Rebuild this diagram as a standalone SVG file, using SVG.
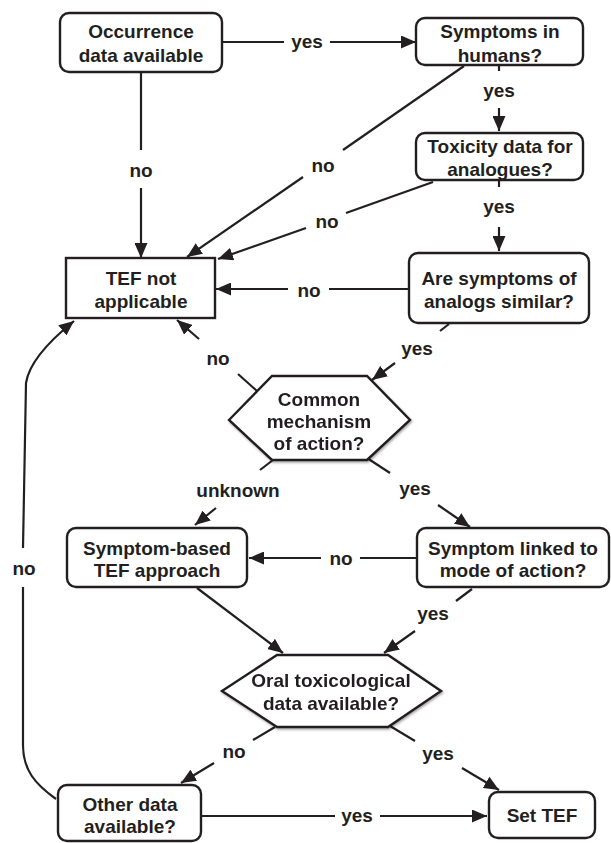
<svg xmlns="http://www.w3.org/2000/svg" width="611" height="843" viewBox="0 0 611 843">
<defs>
<marker id="ah" markerUnits="userSpaceOnUse" markerWidth="16" markerHeight="13" refX="15" refY="6.5" orient="auto">
<path d="M0,0 L15,6.5 L0,13 z" fill="#231f20"/>
</marker>
<filter id="sh" x="-10%" y="-10%" width="130%" height="130%">
<feDropShadow dx="1" dy="1.5" stdDeviation="1.2" flood-color="#000" flood-opacity="0.35"/>
</filter>
<style>
.box{fill:#fff;stroke:#231f20;stroke-width:2.4}
.t{font-family:"Liberation Sans",Arial,sans-serif;font-weight:bold;font-size:19px;fill:#231f20;text-anchor:middle}
.c{fill:none;stroke:#231f20;stroke-width:2.2}
.a{marker-end:url(#ah)}
</style>
</defs>
<rect width="611" height="843" fill="#fff"/>

<g id="connectors">
<line class="c" x1="222" y1="42" x2="284" y2="42"/>
<line class="c a" x1="330" y1="42" x2="416" y2="42"/>
<text class="t" x="307" y="48">yes</text>

<line class="c" x1="141" y1="72" x2="141" y2="150"/>
<line class="c a" x1="141" y1="188" x2="141" y2="258"/>
<text class="t" x="141" y="177">no</text>

<line class="c" x1="464" y1="66" x2="343" y2="150"/>
<line class="c a" x1="303" y1="177" x2="187" y2="257"/>
<text class="t" x="323" y="172">no</text>

<line class="c" x1="499" y1="65" x2="499" y2="71"/>
<line class="c a" x1="499" y1="108" x2="499" y2="131"/>
<text class="t" x="499" y="97">yes</text>

<line class="c" x1="433" y1="182" x2="346" y2="213"/>
<line class="c a" x1="306" y1="228" x2="218" y2="259"/>
<text class="t" x="327" y="228">no</text>

<line class="c" x1="499" y1="180" x2="499" y2="187"/>
<line class="c a" x1="499" y1="227" x2="499" y2="251"/>
<text class="t" x="499" y="213">yes</text>

<line class="c" x1="409" y1="289" x2="329" y2="289"/>
<line class="c a" x1="288" y1="289" x2="216" y2="289"/>
<text class="t" x="309" y="297">no</text>

<line class="c" x1="449" y1="324" x2="440" y2="331"/>
<line class="c a" x1="395" y1="363" x2="372" y2="380"/>
<text class="t" x="417" y="355">yes</text>

<line class="c" x1="257" y1="391" x2="238" y2="374"/>
<line class="c a" x1="199" y1="339" x2="177" y2="320"/>
<text class="t" x="218" y="365">no</text>

<line class="c" x1="273" y1="460" x2="260" y2="470"/>
<line class="c a" x1="216" y1="508" x2="195" y2="525"/>
<text class="t" x="238" y="497">unknown</text>

<line class="c" x1="367" y1="458" x2="390" y2="473"/>
<line class="c a" x1="438" y1="505" x2="470" y2="527"/>
<text class="t" x="415" y="495">yes</text>

<line class="c" x1="417" y1="558" x2="360" y2="558"/>
<line class="c a" x1="321" y1="558" x2="249" y2="558"/>
<text class="t" x="341" y="565">no</text>

<line class="c a" x1="197" y1="588" x2="283" y2="653"/>

<line class="c" x1="472" y1="589" x2="456" y2="601"/>
<line class="c a" x1="415" y1="631" x2="384" y2="653"/>
<text class="t" x="433" y="620">yes</text>

<line class="c" x1="275" y1="727" x2="253" y2="740"/>
<line class="c a" x1="214" y1="763" x2="181" y2="783"/>
<text class="t" x="234" y="758">no</text>

<line class="c" x1="390" y1="726" x2="415" y2="741"/>
<line class="c a" x1="462" y1="768" x2="499" y2="790"/>
<text class="t" x="438" y="760">yes</text>

<line class="c" x1="201" y1="816" x2="335" y2="816"/>
<line class="c a" x1="380" y1="816" x2="487" y2="816"/>
<text class="t" x="357" y="822">yes</text>

<path class="c" d="M56,799 C35,784 23,770 23,745 L23,587"/>
<path class="c a" d="M23,548 L26,383 C29,363 48,342 74,321"/>
<text class="t" x="24" y="575">no</text>
</g>

<g id="occurrence">
<rect class="box" x="60" y="13" width="162" height="59" rx="9"/>
<text class="t" x="141" y="38">Occurrence</text>
<text class="t" x="141" y="62">data available</text>
</g>

<g id="symptoms-humans">
<rect class="box" x="416" y="18" width="167" height="47" rx="9"/>
<text class="t" x="500" y="38">Symptoms in</text>
<text class="t" x="500" y="62">humans?</text>
</g>

<g id="toxicity-analogues">
<rect class="box" x="416" y="133" width="167" height="47" rx="9"/>
<text class="t" x="500" y="153">Toxicity data for</text>
<text class="t" x="500" y="176">analogues?</text>
</g>

<g id="symptoms-similar">
<rect class="box" x="409" y="253" width="180" height="70" rx="9"/>
<text class="t" x="499" y="285">Are symptoms of</text>
<text class="t" x="499" y="308">analogs similar?</text>
</g>

<g id="tef-not-applicable">
<rect class="box" x="66" y="258" width="149" height="60"/>
<text class="t" x="141" y="285">TEF not</text>
<text class="t" x="141" y="308">applicable</text>
</g>

<g id="common-mechanism" filter="url(#sh)">
<polygon class="box" points="229,420 272,376 367,376 410,420 367,460 272,460"/>
<text class="t" x="319" y="406">Common</text>
<text class="t" x="319" y="428">mechanism</text>
<text class="t" x="319" y="450">of action?</text>
</g>

<g id="symptom-based">
<rect class="box" x="67" y="528" width="180" height="59" rx="9"/>
<text class="t" x="157" y="555">Symptom-based</text>
<text class="t" x="157" y="577">TEF approach</text>
</g>

<g id="symptom-linked">
<rect class="box" x="417" y="528" width="192" height="59" rx="9"/>
<text class="t" x="513" y="555">Symptom linked to</text>
<text class="t" x="513" y="577">mode of action?</text>
</g>

<g id="oral-data" filter="url(#sh)">
<polygon class="box" points="222,691 277,655 388,655 441,691 388,727 277,727"/>
<text class="t" x="331" y="687">Oral toxicological</text>
<text class="t" x="331" y="710">data available?</text>
</g>

<g id="other-data">
<rect class="box" x="58" y="785" width="143" height="56" rx="9"/>
<text class="t" x="130" y="811">Other data</text>
<text class="t" x="130" y="833">available?</text>
</g>

<g id="set-tef">
<rect class="box" x="489" y="792" width="106" height="46" rx="9"/>
<text class="t" x="542" y="822">Set TEF</text>
</g>
</svg>
